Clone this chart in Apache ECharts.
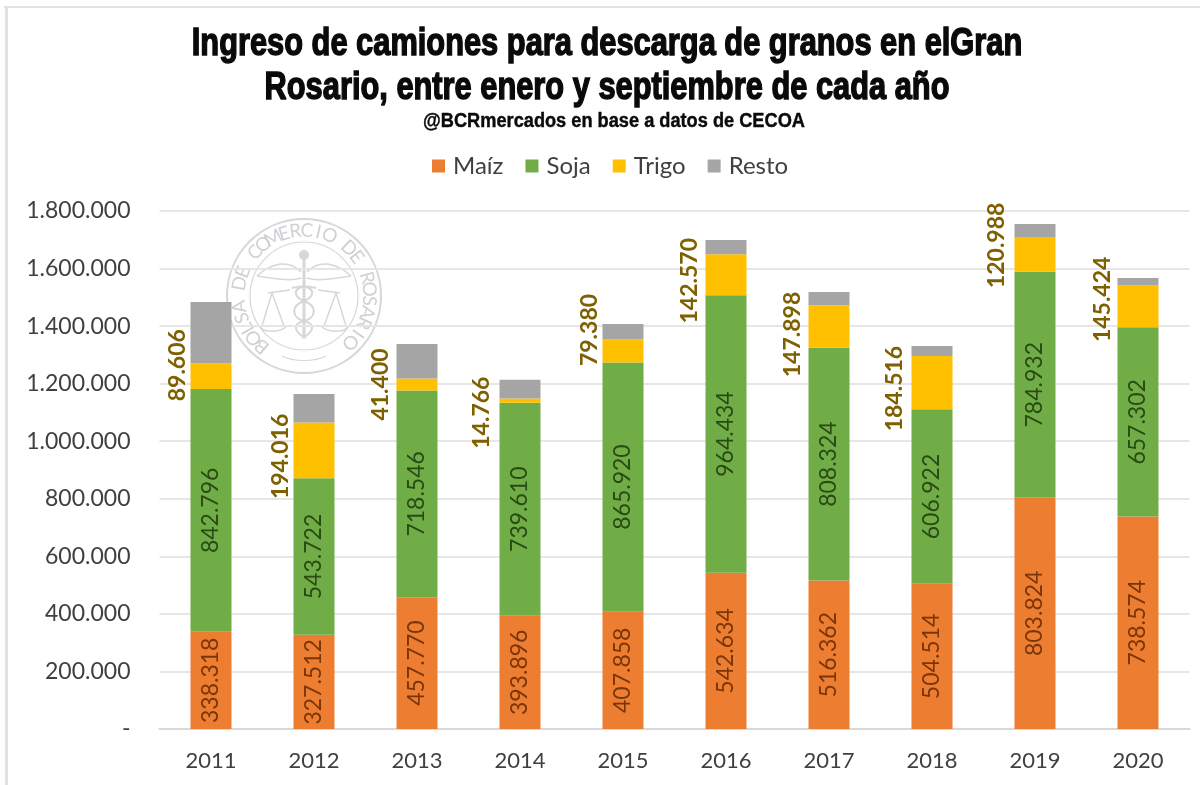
<!DOCTYPE html>
<html>
<head>
<meta charset="utf-8">
<title>Ingreso de camiones</title>
<style>html,body{margin:0;padding:0;background:#fff}#main{width:1200px;height:785px}</style>
<script src="https://cdn.jsdelivr.net/npm/echarts@6/dist/echarts.min.js"></script>
</head>
<body>
<div id="main"></div>
<script>
var years = ['2011', '2012', '2013', '2014', '2015', '2016', '2017', '2018', '2019', '2020'];
var maiz = [338318, 327512, 457770, 393896, 407858, 542634, 516362, 504514, 803824, 738574];
var soja = [842796, 543722, 718546, 739610, 865920, 964434, 808324, 606922, 784932, 657302];
var trigo = [89606, 194016, 41400, 14766, 79380, 142570, 147898, 184516, 120988, 145424];
var resto = [213000, 99000, 120000, 65000, 54000, 50000, 46000, 35000, 45000, 26000];

// los rotulos de trigo no quedan centrados en el tramo: [hacia arriba, hacia la derecha]
var trigoShift = [[11, 3], [-6, 3], [0, 0], [-12, -2], [21, 3], [-6, 0], [-8, 0], [-6, -1], [9, -2], [7, 1]];

function miles(v) {
    return String(v).replace(/\B(?=(\d{3})+(?!\d))/g, '.');
}

// sello de fondo
var selloTexto = 'BOLSA DE COMERCIO DE ROSARIO';
var selloColor = '#d5d7da';

function curva(a, b, c, d, e, f, g, h, w) {
    return {
        type: 'bezierCurve',
        shape: { x1: a, y1: b, cpx1: c, cpy1: d, cpx2: e, cpy2: f, x2: g, y2: h },
        style: { fill: 'none', stroke: selloColor, lineWidth: w }
    };
}
function trazo(pts, w) {
    return { type: 'polyline', shape: { points: pts }, style: { fill: 'none', stroke: selloColor, lineWidth: w } };
}

var sello = [
    { type: 'circle', shape: { cx: 0, cy: 0, r: 77 }, style: { fill: '#fff', stroke: selloColor, lineWidth: 2 } },
    { type: 'circle', shape: { cx: 0, cy: 0, r: 54 }, style: { fill: 'none', stroke: selloColor, lineWidth: 1.2 } },
    trazo([[0, -38], [0, 40]], 3),
    { type: 'circle', shape: { cx: 0, cy: -41, r: 5 }, style: { fill: selloColor } },
    // alas
    curva(-3, -24, -16, -38, -34, -32, -47, -20, 1.5),
    curva(-47, -20, -32, -18, -14, -14, -3, -18, 1.5),
    curva(3, -24, 16, -38, 34, -32, 47, -20, 1.5),
    curva(47, -20, 32, -18, 14, -14, 3, -18, 1.5),
    // serpientes
    curva(-12, -8, 10, -14, 14, 0, 0, 5, 2),
    curva(0, 5, -14, 10, -12, 22, 0, 25, 2),
    curva(0, 25, 12, 28, 10, 36, -2, 42, 2),
    curva(12, -8, -10, -14, -14, 0, 0, 5, 2),
    curva(0, 5, 14, 10, 12, 22, 0, 25, 2),
    curva(0, 25, -12, 28, -10, 36, 2, 42, 2),
    // balanza
    trazo([[-36, -3], [-14, -6]], 1.5),
    trazo([[-20, 30], [-32, -3], [-42, 30], [-20, 30]], 1.5),
    curva(-45, 30, -40, 37, -24, 37, -17, 30, 1.5),
    trazo([[36, -3], [14, -6]], 1.5),
    trazo([[20, 30], [32, -3], [42, 30], [20, 30]], 1.5),
    curva(45, 30, 40, 37, 24, 37, 17, 30, 1.5),
    curva(-22, 60, -10, 66, 10, 66, 22, 60, 1.2)
];
for (var i = 0; i < selloTexto.length; i++) {
    var ang = (-140 + i * 275 / (selloTexto.length - 1)) * Math.PI / 180;
    sello.push({
        type: 'text',
        x: 65.5 * Math.sin(ang),
        y: -65.5 * Math.cos(ang),
        rotation: -ang,
        style: { text: selloTexto[i], fill: '#cfd1d5', font: '19px "Lato"', align: 'center', verticalAlign: 'middle' }
    });
}

function titulo(txt, x, y, size, sx) {
    return {
        type: 'text', x: x, y: y, scaleX: sx, z: 6,
        style: {
            text: txt, fill: '#0a0a0a', stroke: '#0a0a0a', lineWidth: size > 30 ? 1.5 : 0.4,
            font: 'bold ' + size + 'px "Liberation Sans"', align: 'center', verticalAlign: 'middle'
        }
    };
}

var myChart = echarts.init(document.getElementById('main'));

var option = {
    backgroundColor: '#fff',
    animation: false,
    legend: {
        top: 149,
        left: 427,
        itemWidth: 13,
        itemHeight: 13,
        itemGap: 22,
        icon: 'rect',
        textStyle: { fontFamily: 'Lato', fontSize: 24, color: '#404040', padding: [0, 0, 0, 3] },
        data: ['Maíz', 'Soja', 'Trigo', 'Resto']
    },
    grid: { left: 159.5, right: 10.5, top: 211, bottom: 56 },
    xAxis: [{
        type: 'category',
        data: years,
        axisTick: { show: false },
        axisLine: { lineStyle: { color: '#d9d9d9', width: 2 } },
        axisLabel: { fontFamily: 'Lato', fontSize: 22, color: '#404040', margin: 21 }
    }],
    yAxis: [{
        type: 'value',
        min: 0,
        max: 1800000,
        interval: 200000,
        axisLine: { show: false },
        axisTick: { show: false },
        splitLine: { lineStyle: { color: '#e6e6e6', width: 2 } },
        axisLabel: {
            fontFamily: 'Lato',
            fontSize: 23,
            color: '#404040',
            margin: 29,
            formatter: function (v) { return v === 0 ? '-' : miles(v); }
        }
    }],
    graphic: [
        { type: 'rect', z: 5, shape: { x: 4, y: 6, width: 1196, height: 2 }, style: { fill: '#e2e2e2' } },
        { type: 'rect', z: 5, shape: { x: 5, y: 6, width: 3, height: 779 }, style: { fill: '#e2e2e2' } },
        { type: 'group', x: 304, y: 296, z: 1, children: sello },
        titulo('Ingreso de camiones para descarga de granos en elGran', 607, 44, 39, 0.79),
        titulo('Rosario, entre enero y septiembre de cada año', 607, 88, 39, 0.79),
        titulo('@BCRmercados en base a datos de CECOA', 614, 121, 20, 0.91)
    ],
    series: [{
        name: 'Maíz',
        type: 'bar',
        stack: 'total',
        barWidth: 41,
        color: '#ed7d31',
        label: {
            show: true, position: 'inside', rotate: 90, fontFamily: 'Lato', fontSize: 23, color: '#7a3608',
            formatter: function (p) { return miles(p.value); }
        },
        data: maiz
    }, {
        name: 'Soja',
        type: 'bar',
        stack: 'total',
        color: '#70ad47',
        label: {
            show: true, position: 'inside', rotate: 90, fontFamily: 'Lato', fontSize: 23, color: '#2a4a13',
            formatter: function (p) { return miles(p.value); }
        },
        data: soja
    }, {
        name: 'Trigo',
        type: 'bar',
        stack: 'total',
        color: '#ffc000',
        label: {
            show: true, position: 'left', rotate: 90, distance: 4, align: 'center', verticalAlign: 'bottom',
            fontFamily: 'Lato', fontSize: 23, fontWeight: 'bold', color: '#7f6000',
            formatter: function (p) { return miles(p.value); }
        },
        data: trigo.map(function (v, i) {
            // el offset va en el marco ya rotado de la etiqueta
            return { value: v, label: { offset: trigoShift[i] } };
        })
    }, {
        name: 'Resto',
        type: 'bar',
        stack: 'total',
        color: '#a5a5a5',
        data: resto
    }]
};

myChart.setOption(option);

window.addEventListener('resize', function () {
    myChart.resize();
});
</script>
</body>
</html>
